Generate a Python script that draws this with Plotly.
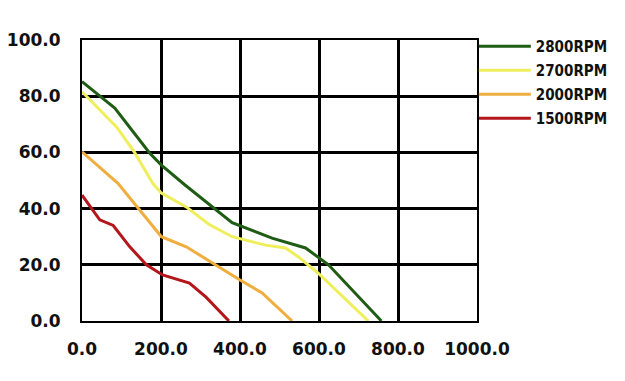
import plotly.graph_objects as go

# Data
x_2800 = [0, 83, 171, 201, 260, 330, 380, 481, 566, 624, 758]
y_2800 = [85.2, 75.8, 59.8, 55.5, 48.5, 40.7, 35.0, 29.5, 26.0, 20.0, 0.0]

x_2700 = [0, 88, 133, 179, 201, 264, 320, 380, 465, 515, 548, 598, 725]
y_2700 = [81.6, 69.0, 60.0, 49.0, 45.5, 40.6, 34.5, 30.0, 27.0, 26.0, 22.8, 17.0, 0.0]

x_2000 = [0, 70, 91, 146, 201, 264, 330, 400, 456, 532]
y_2000 = [60.2, 51.4, 49.0, 39.5, 30.0, 26.4, 20.6, 14.6, 10.0, 0.0]

x_1500 = [0, 45, 79, 121, 163, 204, 272, 314, 372]
y_1500 = [44.8, 36.0, 34.0, 26.4, 20.0, 16.4, 13.5, 8.5, 0.0]

series_names = ["2800RPM", "2700RPM", "2000RPM", "1500RPM"]
series_colors = ["#1f5c14", "#efef5c", "#efae3e", "#b3161b"]

x_ticks = [0, 200, 400, 600, 800, 1000]
x_tick_labels = ["0.0", "200.0", "400.0", "600.0", "800.0", "1000.0"]
y_ticks = [0, 20, 40, 60, 80, 100]
y_tick_labels = ["0.0", "20.0", "40.0", "60.0", "80.0", "100.0"]

xs = [x_2800, x_2700, x_2000, x_1500]
ys = [y_2800, y_2700, y_2000, y_1500]

fig = go.Figure()
for name, color, x, y in zip(series_names, series_colors, xs, ys):
    fig.add_trace(go.Scatter(x=x, y=y, mode="lines", name=name, legendgroup=name,
                             line=dict(color=color, width=3)))

tick_font = dict(family="DejaVu Sans", size=17, color="#111111", weight="bold")

fig.update_layout(
    width=617, height=373,
    margin=dict(l=74, r=145, t=32, b=60),
    paper_bgcolor="white", plot_bgcolor="white",
    showlegend=True,
    legend=dict(x=0.992, xanchor="left", y=1.036, yanchor="top",
                font=dict(family="Liberation Sans Narrow, DejaVu Sans Condensed, DejaVu Sans",
                          size=15, color="#111111", weight="bold"),
                itemwidth=52, tracegroupgap=1.5,
                bgcolor="rgba(0,0,0,0)", borderwidth=0),
    xaxis=dict(range=[0, 1000], tickvals=x_ticks, ticktext=x_tick_labels,
               showgrid=True, gridcolor="black", gridwidth=3,
               showline=True, linecolor="black", linewidth=2, mirror=True,
               zeroline=False, ticks="", tickfont=tick_font, ticklabelstandoff=12,
               automargin=False),
    yaxis=dict(range=[0, 100], tickvals=y_ticks, ticktext=y_tick_labels,
               showgrid=True, gridcolor="black", gridwidth=3,
               showline=True, linecolor="black", linewidth=2, mirror=True,
               zeroline=False, ticks="", tickfont=tick_font, ticklabelstandoff=16,
               automargin=False),
)

fig.write_html("out.html")
